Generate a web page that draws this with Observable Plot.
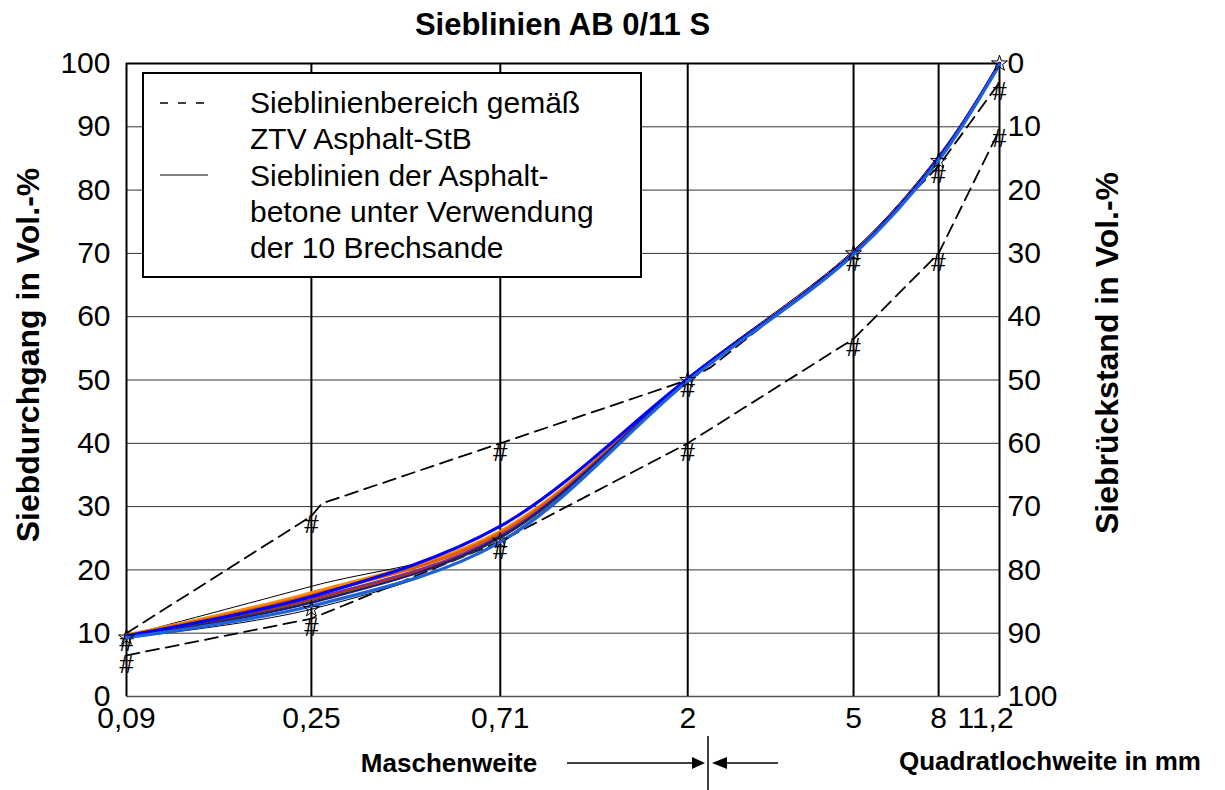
<!DOCTYPE html>
<html>
<head>
<meta charset="utf-8">
<script src="https://cdn.jsdelivr.net/npm/d3@7"></script>
<script src="https://cdn.jsdelivr.net/npm/@observablehq/plot@0.6"></script>
<style>
  body { margin: 0; background: #fff; font-family: "Liberation Sans", Arial, sans-serif; }
  #wrap { position: relative; width: 1225px; height: 790px; overflow: hidden; }
  #title { height: 45px; box-sizing: border-box; padding: 0 226px 0 126px; text-align: center;
           font-weight: bold; font-size: 31px; line-height: 49px; color: #000; }
  #legend { position: absolute; left: 142px; top: 72px; width: 500px; height: 206px; box-sizing: border-box;
            border: 2px solid #000; background: #fff; }
  #legend svg { position: absolute; left: 0; top: 0; }
  #legend .txt { position: absolute; left: 106px; top: 11px; font-size: 30px; line-height: 36.3px; color: #000; white-space: nowrap; }
  #footer { position: absolute; left: 0; top: 736px; }
</style>
</head>
<body>
<div id="wrap">
  <div id="title">Sieblinien AB 0/11 S</div>
  <div id="chart"></div>
  <div id="legend">
    <svg width="500" height="206">
      <line x1="16" x2="64" y1="29" y2="29" stroke="#000" stroke-width="1.5" stroke-dasharray="8 10"></line>
      <line x1="16" x2="64" y1="101" y2="101" stroke="#000" stroke-width="1"></line>
    </svg>
    <div class="txt">Sieblinienbereich gemäß<br>ZTV Asphalt-StB<br>Sieblinien der Asphalt-<br>betone unter Verwendung<br>der 10 Brechsande</div>
  </div>
  <svg id="footer" width="1225" height="54" font-family="Liberation Sans, Arial, sans-serif">
    <text x="449" y="27" text-anchor="middle" dominant-baseline="central" font-weight="bold" font-size="26">Maschenweite</text>
    <line x1="567" x2="694" y1="27" y2="27" stroke="#000" stroke-width="1.5"></line>
    <path d="M692,21 L705,27 L692,33 Z" fill="#000"></path>
    <line x1="708" x2="708" y1="0" y2="54" stroke="#000" stroke-width="1.5"></line>
    <path d="M727,21 L712,27 L727,33 Z" fill="#000"></path>
    <line x1="725" x2="778" y1="27" y2="27" stroke="#000" stroke-width="1.5"></line>
    <text x="1050" y="25" text-anchor="middle" dominant-baseline="central" font-weight="bold" font-size="26">Quadratlochweite in mm</text>
  </svg>
</div>
<script>
// Sieve sizes (mm) and their printed labels
const sieves = [0.09, 0.25, 0.71, 2, 5, 8, 11.2];
const sieveLabels = ["0,09", "0,25", "0,71", "2", "5", "8", "11,2"];

// Passing percentages on the left axis, retained percentages on the right axis
const yTicks = [0, 10, 20, 30, 40, 50, 60, 70, 80, 90, 100];
const retainedLabels = ["100", "90", "80", "70", "60", "50", "40", "30", "20", "10", "0"];

// Grading envelope according to ZTV Asphalt-StB (dashed)
const upperSize = [0.09, 0.25, 0.265, 0.71, 2, 2.27, 5, 8, 11.2];
const upperPass = [10, 28.5, 30.5, 40, 50, 52, 70, 83.8, 97];
const lowerSize = [0.09, 0.25, 0.71, 2, 5, 8, 11.2];
const lowerPass = [6.5, 12.3, 24.5, 40, 56.5, 70, 89.5];

// Grading curves of the asphalt concretes made with the 10 crushed sands
const curveNames = ["BS 1", "BS 2", "BS 3", "BS 4", "BS 5", "BS 6", "BS 7", "BS 8", "BS 9", "BS 10"];
const curveColors = ["#000000", "#000000", "#ff8c00", "#e05a00", "#b8300a", "#3a3a3a", "#7a2fa0", "#1a1a80", "#0000ff", "#1f62d6"];
const curveWidths = [1, 1, 3.2, 3, 2.5, 1.5, 1.5, 2, 3.2, 3.2];
const curveValues = [
  [9.6, 17.4, 25.6, 50.4, 70.5, 85.5, 100],
  [9.3, 13.8, 24.6, 50.0, 70.0, 84.6, 100],
  [9.7, 16.4, 26.1, 50.0, 70.0, 85.0, 100],
  [9.6, 16.0, 25.8, 50.0, 70.0, 85.0, 100],
  [9.5, 15.3, 25.3, 50.0, 70.0, 85.0, 100],
  [9.5, 15.0, 25.0, 50.0, 70.0, 85.0, 100],
  [9.5, 15.5, 25.5, 50.1, 70.0, 85.0, 100],
  [9.4, 14.8, 25.2, 50.0, 70.0, 85.0, 100],
  [9.6, 15.8, 26.9, 50.2, 70.0, 85.0, 100],
  [9.3, 14.3, 24.4, 49.8, 69.8, 84.7, 99.8]
];

const upperRows = upperSize.map((s, i) => ({size: s, pass: upperPass[i]}));
const lowerRows = lowerSize.map((s, i) => ({size: s, pass: lowerPass[i]}));
const envelopeMarks = [...upperRows, ...lowerRows].filter(d => sieves.includes(d.size));
const curveRows = curveNames.map((name, k) => sieves.map((s, i) => ({curve: name, size: s, pass: curveValues[k][i]})));

const font = "Liberation Sans, Arial, sans-serif";

const chart = Plot.plot({
  width: 1225,
  height: 691,
  marginLeft: 126,
  marginRight: 226,
  marginTop: 18,
  marginBottom: 40,
  style: {fontFamily: font, fontSize: "30px", color: "#000", background: "#fff", overflow: "visible"},
  x: {type: "log", domain: [0.09, 11.2], axis: null},
  y: {domain: [0, 100], axis: null},
  marks: [
    // grid
    Plot.ruleY(yTicks.filter(d => d > 0 && d < 100), {stroke: "#333", strokeWidth: 1}),
    Plot.ruleY([100], {stroke: "#000", strokeWidth: 2}),
    Plot.ruleY([0], {stroke: "#555", strokeWidth: 1.5}),
    Plot.ruleX(sieves, {stroke: "#000", strokeWidth: 2}),

    // grading envelope
    Plot.line(upperRows, {x: "size", y: "pass", stroke: "#000", strokeWidth: 1.8, strokeDasharray: "13 7"}),
    Plot.line(lowerRows, {x: "size", y: "pass", stroke: "#000", strokeWidth: 1.8, strokeDasharray: "13 7"}),
    Plot.text(envelopeMarks, {x: "size", y: "pass", text: () => "#", dy: 9, fontSize: 26, fill: "#000"}),

    // grading curves
    ...curveRows.map((rows, k) => Plot.line(rows, {
      x: "size", y: "pass", stroke: curveColors[k], strokeWidth: curveWidths[k], curve: "catmull-rom"
    })),
    Plot.dot(curveRows[1], {x: "size", y: "pass", symbol: "star", r: 5, stroke: "#000", strokeWidth: 1, fill: "none"}),

    // axes
    Plot.axisY({ticks: yTicks, tickSize: 0, tickPadding: 16, label: null, fontSize: 30}),
    Plot.axisY({anchor: "right", ticks: yTicks, tickFormat: d => retainedLabels[yTicks.indexOf(d)],
                tickSize: 0, tickPadding: 8, label: null, fontSize: 30}),
    Plot.text(sieves.slice(0, 6), {x: d => d, text: (d, i) => sieveLabels[i], frameAnchor: "bottom", dy: 22, fontSize: 30, lineAnchor: "middle"}),
    Plot.text(sieves.slice(6), {x: d => d, text: () => sieveLabels[6], frameAnchor: "bottom", dy: 22, dx: -14, fontSize: 30, lineAnchor: "middle"}),

    // axis titles
    Plot.text(["Siebdurchgang in Vol.-%"], {frameAnchor: "left", dx: -98, dy: -25, rotate: -90, text: d => d,
      fontWeight: "bold", fontSize: 32, textAnchor: "middle", lineAnchor: "middle"}),
    Plot.text(["Siebrückstand in Vol.-%"], {frameAnchor: "right", dx: 108, dy: -27, rotate: -90, text: d => d,
      fontWeight: "bold", fontSize: 32, textAnchor: "middle", lineAnchor: "middle"})
  ]
});
document.getElementById("chart").appendChild(chart);
</script>
</body>
</html>
